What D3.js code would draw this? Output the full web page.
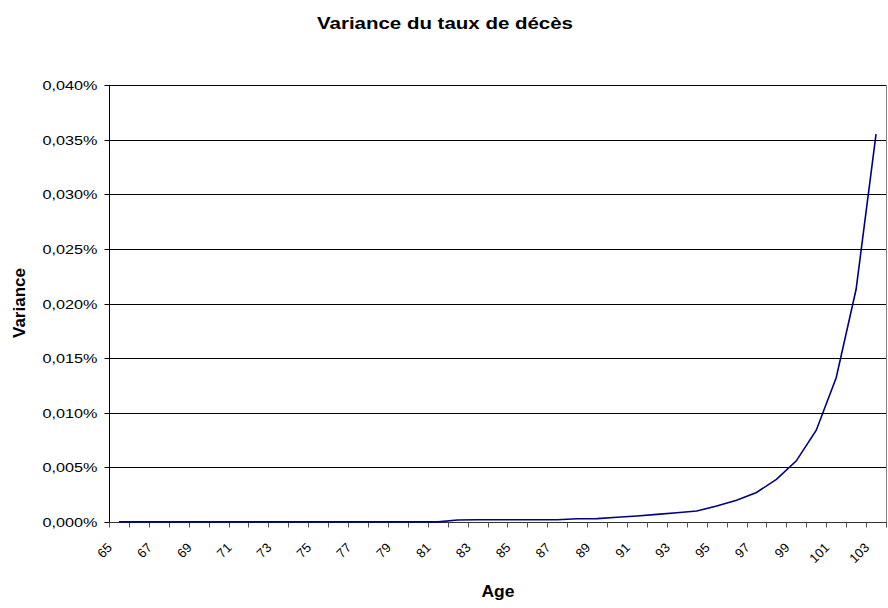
<!DOCTYPE html>
<html><head><meta charset="utf-8">
<script src="https://cdn.jsdelivr.net/npm/d3@7"></script>
<style>body{margin:0;background:#fff}svg{display:block;font-family:"Liberation Sans",Arial,sans-serif}</style>
</head><body><svg id="c" width="888" height="608"></svg>
<script>
const ages = d3.range(65, 104);
const variance = [
  0.0000001,0.0000001,0.0000001,0.0000001,0.0000001,0.0000001,0.0000001,0.0000001,0.0000001,0.0000001,
  0.0000001,0.0000001,0.0000001,0.0000001,0.0000001,0.0000001,0.0000001,
  0.0000018,0.0000020,0.0000020,0.0000020,0.0000020,0.0000020,
  0.0000030,0.0000031,0.0000043,0.0000055,0.0000070,0.0000085,0.0000100,
  0.0000146,0.0000200,0.0000270,0.0000390,0.0000560,0.0000840,0.0001320,0.0002130,0.0003550
];
const yTicks = [0,0.00005,0.0001,0.00015,0.0002,0.00025,0.0003,0.00035,0.0004];
const xLabels = ages.filter((a,i)=>i%2===0);

const svg = d3.select("#c");
const L=109, R=886, T=85, B=522;
const x = d3.scaleBand().domain(ages).range([L,R]).padding(0);
const y = d3.scaleLinear().domain([0,0.0004]).range([B,T]);
const loc = d3.formatLocale({decimal:",",thousands:" ",grouping:[3],currency:["","€"]});
const fmt = loc.format(".3%");

// gridlines
svg.append("g").selectAll("line").data(yTicks.slice(1)).join("line")
  .attr("x1",L).attr("x2",R).attr("y1",d=>Math.round(y(d))+0.5).attr("y2",d=>Math.round(y(d))+0.5)
  .attr("stroke","#000").attr("stroke-width",1);
// right border
svg.append("line").attr("x1",R+0.5).attr("x2",R+0.5).attr("y1",T).attr("y2",B).attr("stroke","#808080");

// y axis
const ya = svg.append("g").attr("transform",`translate(${L+0.5},0)`)
  .call(d3.axisLeft(y).tickValues(yTicks).tickFormat(fmt).tickSize(5).tickPadding(7));
ya.select(".domain").attr("stroke","#000").attr("d",`M0,${T}V${B+0.5}`);
ya.selectAll(".tick line").attr("stroke","#000");
ya.selectAll(".tick").attr("transform",d=>`translate(0,${Math.round(y(d))+0.5})`);
ya.selectAll("text").attr("font-size",12).attr("fill","#000")
  .attr("font-family","Liberation Sans, Arial, sans-serif")
  .attr("textLength",55).attr("lengthAdjust","spacingAndGlyphs").attr("dy","0.35em");

// x axis
const xa = svg.append("g").attr("transform",`translate(0,${B+0.5})`);
xa.append("line").attr("x1",L).attr("x2",R+1).attr("stroke","#333");
const bounds = ages.map(a=>x(a)).concat([R]);
xa.selectAll("line.tk").data(bounds).join("line").attr("class","tk")
  .attr("x1",d=>Math.round(d)+0.5).attr("x2",d=>Math.round(d)+0.5).attr("y1",0).attr("y2",5)
  .attr("stroke","#555");
xa.selectAll("text.lbl").data(xLabels).join("text").attr("class","lbl")
  .attr("transform",d=>"translate(" + (x(d)+x.bandwidth()/2-6) + ",26) rotate(-45)")
  .attr("text-anchor","end").attr("font-size",13).attr("fill","#000")
  .text(d=>d);

// line
svg.append("path").datum(ages.map((a,i)=>[a,variance[i]]))
  .attr("fill","none").attr("stroke","#000080").attr("stroke-width",1.6)
  .attr("d",d3.line().x(d=>x(d[0])+x.bandwidth()/2).y(d=>y(d[1])));

// titles
svg.append("text").attr("x",445).attr("y",29).attr("text-anchor","middle")
  .attr("font-size",16).attr("font-weight","bold")
  .attr("textLength",256).attr("lengthAdjust","spacingAndGlyphs").text("Variance du taux de décès");
svg.append("text").attr("x",498).attr("y",597).attr("text-anchor","middle")
  .attr("font-size",16).attr("font-weight","bold")
  .attr("textLength",33).attr("lengthAdjust","spacingAndGlyphs").text("Age");
svg.append("text").attr("transform",`translate(25,303) rotate(-90)`).attr("text-anchor","middle")
  .attr("font-size",16).attr("font-weight","bold")
  .attr("textLength",70).attr("lengthAdjust","spacingAndGlyphs").text("Variance");
</script></body></html>
